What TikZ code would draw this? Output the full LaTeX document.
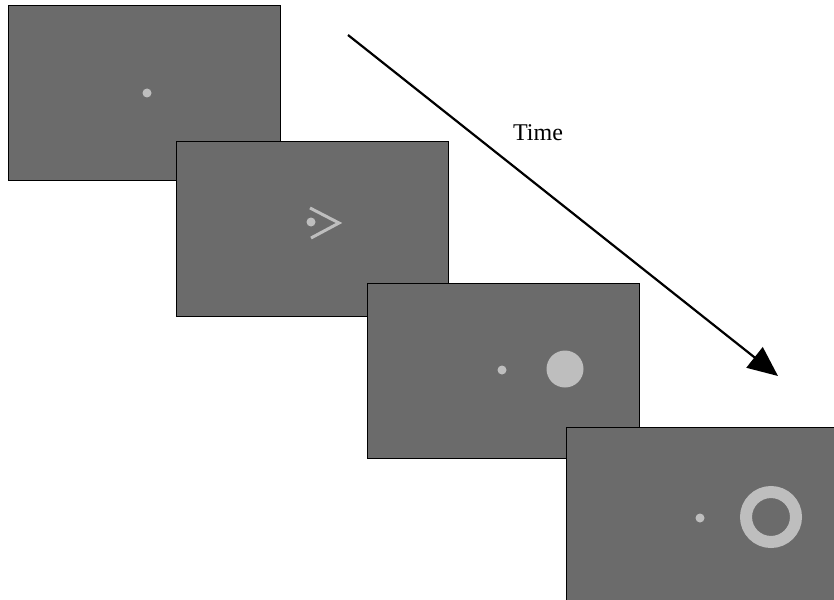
\documentclass[tikz,border=0pt]{standalone}
\usepackage{fontspec}
\setmainfont{Liberation Serif}
\usetikzlibrary{arrows.meta}
\definecolor{screen}{HTML}{6B6B6B}
\definecolor{stim}{HTML}{BEBEBE}
\begin{document}
\begin{tikzpicture}[x=1pt,y=-1pt,
  panel/.style={draw=black,line width=1.3pt,fill=screen,rectangle,minimum width=272pt,minimum height=175pt,inner sep=0pt,anchor=north west},
  fix/.style={circle,fill=stim,inner sep=0pt,minimum size=9pt},
  stimline/.style={draw=stim,line width=3pt},
  timearrow/.style={draw=black,line width=2.2pt,-{Triangle[length=30pt,width=26pt]}}]
\useasboundingbox (0,0) rectangle (834,599);
\clip (0,0) rectangle (834,599);
\fill[white] (0,0) rectangle (834,599);
% panel 1
\node[panel] (p1) at (8,5) {};
\node[fix] (f1) at (147,93) {};
% panel 2
\node[panel] (p2) at (176,141) {};
\node[fix] (f2) at (311,222) {};
\coordinate (c2a) at (310,208);
\coordinate (c2b) at (339,223);
\coordinate (c2c) at (311,238);
\draw[stimline] (c2a) -- (c2b) -- (c2c);
% panel 3
\node[panel] (p3) at (367,283) {};
\node[fix] (f3) at (502,370) {};
\node[circle,fill=stim,inner sep=0pt,minimum size=37pt] (disc) at (565,369) {};
% panel 4
\node[panel,minimum width=290pt,minimum height=190pt] (p4) at (566,427) {};
\node[fix] (f4) at (700,518) {};
\node[circle,draw=stim,line width=12pt,inner sep=0pt,minimum size=50pt] (ring) at (771,517) {};
% time arrow
\coordinate (t0) at (348,35);
\coordinate (t1) at (778,376);
\draw[timearrow] (t0) -- (t1);
\node[font=\fontsize{24}{27}\selectfont,inner sep=0pt] (time) at (538,133) {Time};
\end{tikzpicture}
\end{document}
